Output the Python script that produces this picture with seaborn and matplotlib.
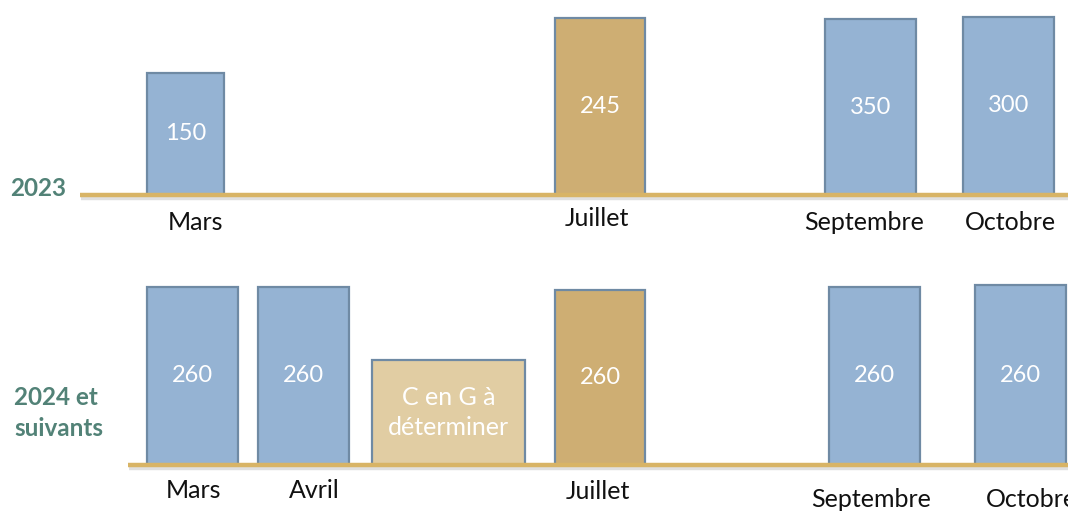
import matplotlib
matplotlib.use("Agg")
import matplotlib.pyplot as plt
import matplotlib.patheffects as pe
import seaborn as sns

# ---------------- data ----------------
row_titles = ["2023", "2024 et\nsuivants"]

months_2023 = ["Mars", "Juillet", "Septembre", "Octobre"]
labels_2023 = ["150", "245", "350", "300"]
kinds_2023 = ["bleu", "or", "bleu", "bleu"]

months_2024 = ["Mars", "Avril", "", "Juillet", "Septembre", "Octobre"]
labels_2024 = ["260", "260", "C en G à\ndéterminer", "260", "260", "260"]
kinds_2024 = ["bleu", "bleu", "sable", "or", "bleu", "bleu"]

# ---------------- layout / style (not data) ----------------
W, H = 1068, 511
fills = {"bleu": "#95B3D3", "or": "#CEAE73", "sable": "#E1CDA3"}
edge = "#6F8AA4"
gold = "#D8B466"
teal = "#528277"

rows = [
    dict(top=0, bottom=240, base=195, line_x0=80,
         months=months_2023, labels=labels_2023, kinds=kinds_2023,
         xc=[185.5, 600, 870.5, 1008.5], w=[77, 90, 91, 91],
         h=[122, 177, 176, 178],
         mx=[196, 597, 864, 1010], my=[-28, -23, -28, -28],
         title_xy=(38, 7), title_ha="center"),
    dict(top=240, bottom=511, base=465, line_x0=128,
         months=months_2024, labels=labels_2024, kinds=kinds_2024,
         xc=[192.5, 303.5, 448.5, 600, 874.5, 1020.5], w=[91, 91, 153, 90, 91, 91],
         h=[178, 178, 105, 175, 178, 180],
         mx=[193, 314, 0, 598, 871, 1031], my=[-25, -25, 0, -26, -34, -34],
         title_xy=(14, 52), title_ha="left"),
]

sns.set_theme(style="white")
plt.rcParams["font.family"] = ["Lato", "DejaVu Sans"]

fig = plt.figure(figsize=(W / 100, H / 100), dpi=100)
fig.patch.set_facecolor("white")

for r, title in zip(rows, row_titles):
    hpx = r["bottom"] - r["top"]
    ax = fig.add_axes([0, (H - r["bottom"]) / H, 1, hpx / H])
    below = r["bottom"] - r["base"]
    ax.set_xlim(0, W)
    ax.set_ylim(-below, hpx - below)
    ax.axis("off")

    ax.bar(r["xc"], r["h"], width=r["w"], bottom=0,
           color=[fills[k] for k in r["kinds"]], edgecolor=edge, linewidth=1.6,
           zorder=2)

    for x, hh, lab, k in zip(r["xc"], r["h"], r["labels"], r["kinds"]):
        fs = 17 if k != "sable" else 18
        ax.text(x, hh / 2, lab, ha="center", va="center", color="white",
                fontsize=fs, linespacing=1.42, zorder=3)

    for x, y, m in zip(r["mx"], r["my"], r["months"]):
        if m:
            ax.text(x, y, m, ha="center", va="center", color="#111111",
                    fontsize=18, zorder=3)

    ax.plot([r["line_x0"], W], [0, 0], color=gold, lw=3.2,
            solid_capstyle="butt", zorder=4,
            path_effects=[pe.SimpleLineShadow(offset=(0.5, -2), shadow_color="#999999", alpha=0.3),
                          pe.Normal()])

    tx, ty = r["title_xy"]
    ax.text(tx, ty, title, ha=r["title_ha"], va="center", color=teal,
            fontsize=17.5, fontweight="bold", linespacing=1.45, zorder=3)

fig.savefig("out.png", dpi=100, facecolor="white")
